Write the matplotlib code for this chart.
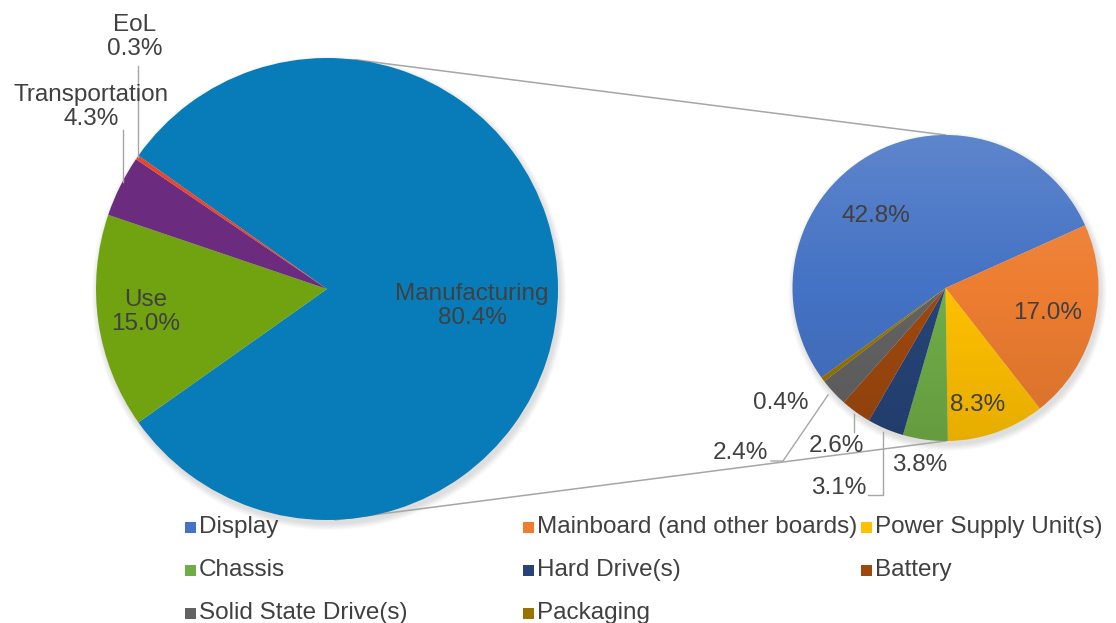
import matplotlib
matplotlib.use("Agg")
import matplotlib.pyplot as plt
from matplotlib.patches import Circle, Rectangle
import numpy as np

plt.rcParams['font.family'] = ['Liberation Sans', 'DejaVu Sans']

# ---------------- data ----------------
main_labels = ["Manufacturing", "Use", "Transportation", "EoL"]
main_values = [80.4, 15.0, 4.3, 0.3]
main_colors = ["#087CB9", "#70A30F", "#6B2C7F", "#E8452C"]

sub_labels = ["Display", "Mainboard (and other boards)", "Power Supply Unit(s)",
              "Chassis", "Hard Drive(s)", "Battery", "Solid State Drive(s)", "Packaging"]
sub_values = [42.8, 17.0, 8.3, 3.8, 3.1, 2.6, 2.4, 0.4]
sub_colors = ["#4472C4", "#ED7D31", "#FFC000", "#70AD47",
              "#264478", "#9E480E", "#636363", "#997300"]

W, H = 1116, 623
TXT = "#404040"
FS = 17.5

fig = plt.figure(figsize=(W / 100, H / 100), dpi=100)
ax = fig.add_axes([0, 0, 1, 1])

def Y(y):  # pixel-from-top -> data
    return H - y

# ---------------- layout ----------------
c1, r1 = (327, Y(289)), 231
c2, r2 = (945.5, Y(288)), 153

# soft shadows
for (c, r) in [(c1, r1), (c2, r2)]:
    for k in range(7):
        ax.add_patch(Circle((c[0] + 2, c[1] - 4), r + k * 1.0, color="#808080",
                            alpha=0.04, lw=0, zorder=1))

start1 = main_values[0] / sum(main_values) * 360 / 2
w1, _ = ax.pie(main_values, colors=main_colors, startangle=start1, counterclock=False,
               center=c1, radius=r1, wedgeprops=dict(lw=0))
for w in w1:
    w.set_zorder(2)

start2 = 215.8
w2, _ = ax.pie(sub_values, colors=sub_colors, startangle=start2, counterclock=False,
               center=c2, radius=r2, wedgeprops=dict(lw=0))
for w in w2:
    w.set_zorder(2)

# gradient overlay on secondary pie
n = 256
grad = np.zeros((n, 1, 4))
t = np.linspace(0, 1, n)
grad[:, 0, :3] = np.where(t[:, None] < 0.5, 1.0, 0.0)
grad[:, 0, 3] = np.where(t < 0.5, 0.14 * (1 - 2 * t), 0.10 * (2 * t - 1))
im = ax.imshow(grad, extent=[c2[0] - r2, c2[0] + r2, c2[1] - r2, c2[1] + r2],
               origin="upper", aspect="auto", zorder=3, interpolation="bilinear")
clip = Circle(c2, r2, transform=ax.transData, fill=False, lw=0)
ax.add_patch(clip)
im.set_clip_path(clip)

# connector lines
a_top, a_bot = np.deg2rad(83), np.deg2rad(-88)
ax.plot([c1[0] + r1 * np.cos(a_top), c2[0]], [c1[1] + r1 * np.sin(a_top), c2[1] + r2],
        color="#A6A6A6", lw=1.1, zorder=1.5)
ax.plot([c1[0] + r1 * np.cos(a_bot), c2[0]], [c1[1] + r1 * np.sin(a_bot), c2[1] - r2],
        color="#A6A6A6", lw=1.1, zorder=1.5)

# main pie labels
ax.text(472, Y(306), f"{main_labels[0]}\n{main_values[0]:.1f}%", ha="center", va="center",
        fontsize=FS, color=TXT, linespacing=1.15, zorder=5)
ax.text(146, Y(312), f"{main_labels[1]}\n{main_values[1]:.1f}%", ha="center", va="center",
        fontsize=FS, color=TXT, linespacing=1.15, zorder=5)
ax.text(91, Y(107), f"{main_labels[2]}\n{main_values[2]:.1f}%", ha="center", va="center",
        fontsize=FS, color=TXT, linespacing=1.15, zorder=5)
ax.text(135, Y(37), f"{main_labels[3]}\n{main_values[3]:.1f}%", ha="center", va="center",
        fontsize=FS, color=TXT, linespacing=1.15, zorder=5)
lc = "#A6A6A6"
ax.plot([138, 138], [Y(66), Y(157)], color=lc, lw=1, zorder=4)
ax.plot([123, 123], [Y(130), Y(182)], color=lc, lw=1, zorder=4)

# secondary pie labels
sub_pos = [(876, 216), (1048, 313), (978, 405), (920, 465),
           (839, 488), (836, 446), (740, 453), (781, 403)]
for v, (x, y) in zip(sub_values, sub_pos):
    ax.text(x, Y(y), f"{v:.1f}%", ha="center", va="center", fontsize=FS, color=TXT, zorder=5)
ax.plot([771, 783, 828], [Y(461), Y(461), Y(395)], color=lc, lw=1, zorder=4)
ax.plot([854, 854], [Y(414), Y(432)], color=lc, lw=1, zorder=4)
ax.plot([868, 883, 883], [Y(495), Y(495), Y(432)], color=lc, lw=1, zorder=4)

# legend (Excel-style fixed columns)
for i, (lab, col) in enumerate(zip(sub_labels, sub_colors)):
    row, cc = divmod(i, 3)
    x0 = 185 + cc * 338
    y0 = 527 + row * 43
    ax.add_patch(Rectangle((x0, Y(y0) - 5.5), 11, 11, color=col, lw=0, zorder=5))
    ax.text(x0 + 14, Y(y0), lab, ha="left", va="center", fontsize=FS, color=TXT, zorder=5)

ax.set_xlim(0, W)
ax.set_ylim(0, H)
ax.set_aspect("equal")
ax.set_axis_off()
fig.savefig("out.png", dpi=100, facecolor="white")
